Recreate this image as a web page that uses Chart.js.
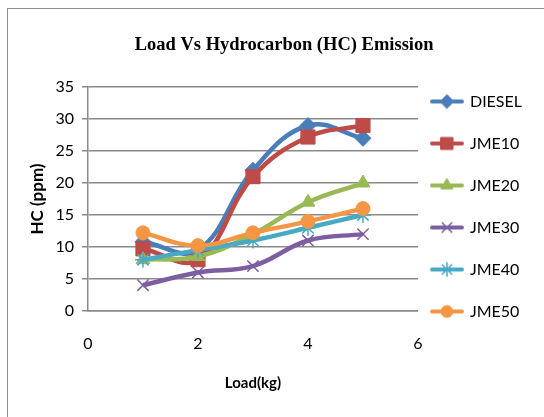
<!DOCTYPE html>
<html>
<head>
<meta charset="utf-8">
<script src="https://cdn.jsdelivr.net/npm/chart.js@4.4.0/dist/chart.umd.min.js"></script>
<style>
  html, body { margin: 0; padding: 0; background: #fff; }
  #wrap { position: relative; width: 544px; height: 417px; overflow: hidden; }
  #frame { position: absolute; left: 7px; top: 8px; width: 600px; height: 500px; border: 1.5px solid #8e8e8e; }
  #hcChart { position: absolute; left: 0; top: 0; }
</style>
</head>
<body>
<div id="wrap">
  <div id="frame"></div>
  <canvas id="hcChart" width="544" height="417"></canvas>
</div>
<script>
const loads = [1, 2, 3, 4, 5];
const seriesNames = ["DIESEL", "JME10", "JME20", "JME30", "JME40", "JME50"];
const diesel = [10.8, 9.5, 22, 29, 27];
const jme10 = [9.7, 8, 21, 27.2, 29];
const jme20 = [8, 8.5, 12, 17, 20];
const jme30 = [4, 6, 7, 11, 12];
const jme40 = [8, 9.5, 11, 13, 15];
const jme50 = [12.2, 10.2, 12.2, 14, 16];
const xTicks = [0, 2, 4, 6];
const yTicks = [0, 5, 10, 15, 20, 25, 30, 35];

const seriesValues = [diesel, jme10, jme20, jme30, jme40, jme50];
const seriesColors = ["#4a7ebb", "#be4b48", "#98b954", "#7d5fa0", "#46aac5", "#f59645"];
const seriesMarkers = [
  { style: "rectRot", radius: 8, border: 1 },
  { style: "rect", radius: 10, border: 1 },
  { style: "triangle", radius: 8, border: 1 },
  { style: "crossRot", radius: 8, border: 1.5 },
  { style: "star", radius: 8, border: 1.5 },
  { style: "circle", radius: 7, border: 1 }
];

const bodyFont = "'Lato', 'Liberation Sans', sans-serif";
const axisGray = "#8a8a8a";

// line + marker swatch, used as the legend point style
function legendSwatch(color, marker) {
  const swatch = document.createElement("canvas");
  swatch.width = 36;
  swatch.height = 18;
  const ctx = swatch.getContext("2d");
  ctx.strokeStyle = color;
  ctx.lineWidth = 4;
  ctx.lineCap = "round";
  ctx.beginPath();
  ctx.moveTo(3, 9);
  ctx.lineTo(33, 9);
  ctx.stroke();
  ctx.fillStyle = color;
  ctx.lineWidth = marker.border;
  Chart.helpers.drawPoint(ctx, { pointStyle: marker.style, radius: marker.radius * 0.85, borderWidth: marker.border, rotation: 0 }, 18, 9);
  return swatch;
}

const datasets = seriesNames.map((name, i) => ({
  label: name,
  data: loads.map((load, j) => ({ x: load, y: seriesValues[i][j] })),
  order: seriesNames.length - i, // later series on top, like the original
  showLine: true,
  borderColor: seriesColors[i],
  backgroundColor: seriesColors[i],
  borderWidth: 4.5,
  tension: 0.4,
  pointStyle: seriesMarkers[i].style,
  pointRadius: seriesMarkers[i].radius,
  pointBorderWidth: seriesMarkers[i].border,
  pointBackgroundColor: seriesColors[i],
  pointBorderColor: seriesColors[i]
}));

new Chart(document.getElementById("hcChart"), {
  type: "scatter",
  data: { datasets },
  options: {
    responsive: false,
    animation: false,
    layout: { padding: { left: 27, right: 12, top: 0, bottom: 26 } },
    plugins: {
      title: {
        display: true,
        text: "\u00a0\u00a0Load Vs Hydrocarbon (HC) Emission",
        color: "#000",
        font: { family: "'Liberation Serif', serif", size: 18.5, weight: "bold" },
        padding: { top: 34, bottom: 31 }
      },
      legend: {
        display: true,
        position: "right",
        title: { display: true, text: "", font: { size: 10, lineHeight: "4px" }, padding: { top: 30, bottom: 0 } },
        labels: {
          usePointStyle: true,
          pointStyleWidth: 30,
          padding: 14,
          color: "#000",
          font: { family: bodyFont, size: 16, lineHeight: "28px" },
          // text as an array so the row height follows the font line height
          generateLabels: (chart) => chart.data.datasets.map((ds, i) => ({
            text: [ds.label],
            pointStyle: legendSwatch(seriesColors[i], seriesMarkers[i]),
            fillStyle: seriesColors[i],
            strokeStyle: seriesColors[i],
            lineWidth: 0,
            fontColor: "#000",
            hidden: false,
            datasetIndex: i
          }))
        }
      },
      tooltip: { enabled: false }
    },
    scales: {
      x: {
        type: "linear",
        min: 0,
        max: 6,
        afterBuildTicks: (scale) => { scale.ticks = xTicks.map((v) => ({ value: v })); },
        grid: { display: false, drawTicks: false },
        border: { display: true, color: axisGray, width: 1.5 },
        ticks: { color: "#000", padding: 23, font: { family: bodyFont, size: 16 } },
        title: {
          display: true,
          text: "Load(kg)",
          color: "#000",
          font: { family: bodyFont, size: 15, weight: "bold", lineHeight: 1 },
          padding: { top: 0, bottom: 0 }
        }
      },
      y: {
        type: "linear",
        min: 0,
        max: 35,
        afterBuildTicks: (scale) => { scale.ticks = yTicks.map((v) => ({ value: v })); },
        grid: { color: axisGray, lineWidth: 1.5, tickLength: 6, tickColor: axisGray },
        border: { display: true, color: axisGray, width: 1.5 },
        ticks: { color: "#000", padding: 8, font: { family: bodyFont, size: 16 } },
        title: {
          display: true,
          text: "HC (ppm)",
          color: "#000",
          font: { family: bodyFont, size: 17, weight: "bold" },
          padding: { top: 0, bottom: 0 }
        }
      }
    }
  }
});
</script>
</body>
</html>
